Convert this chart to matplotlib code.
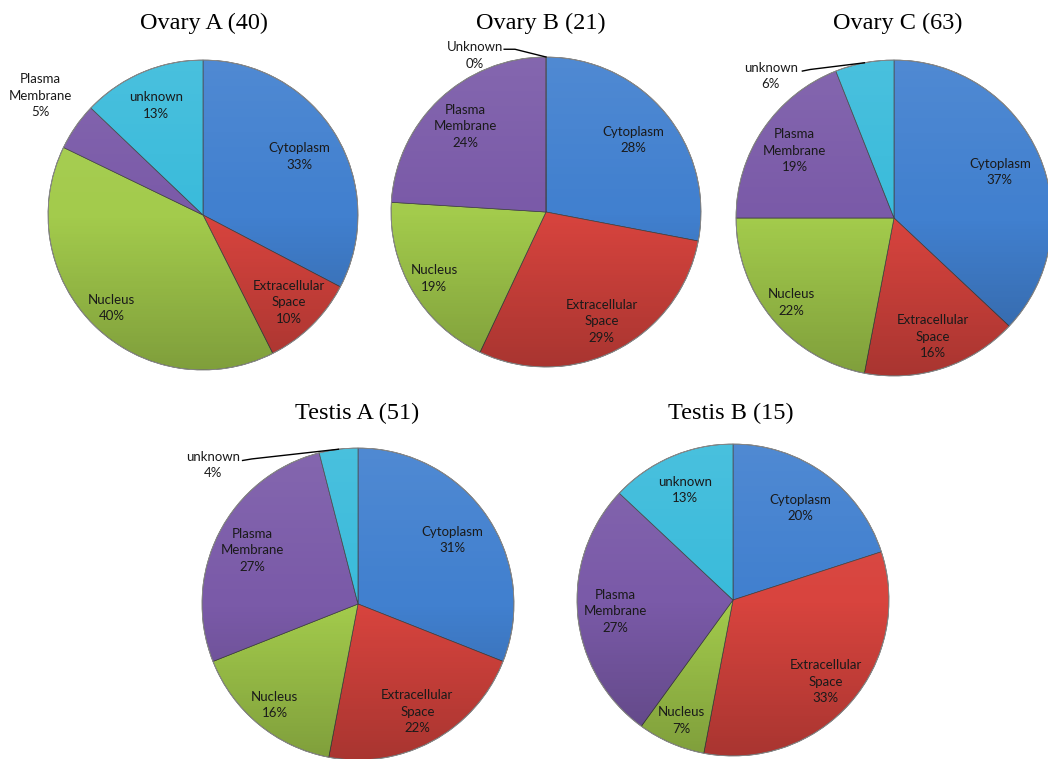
import matplotlib
import matplotlib.pyplot as plt
import numpy as np
from matplotlib.patches import Circle

matplotlib.rcParams.update({"font.family": "Lato"})

W, H = 1048, 759

# data (percent of proteins per subcellular location)
locations = ["Cytoplasm", "Extracellular\nSpace", "Nucleus", "Plasma\nMembrane", "unknown"]
titles = ["Ovary A (40)", "Ovary B (21)", "Ovary C (63)", "Testis A (51)", "Testis B (15)"]
ovary_a = [33, 10, 40, 5, 13]
ovary_b = [28, 29, 19, 24, 0]
ovary_c = [37, 16, 22, 19, 6]
testis_a = [31, 22, 16, 27, 4]
testis_b = [20, 33, 7, 27, 13]

COLORS = ["#4180cf", "#d8443e", "#a3cb4c", "#7a5aa8", "#3abbdb"]
LABEL_R = [0.73, 0.79, 0.84, 0.76, 0.77]

# pie centre / radius in pixels
PIES = [
    (203, 215, 155),
    (546, 212, 155),
    (894, 218, 158),
    (358, 604, 156),
    (733, 600, 156),
]
TITLE_POS = [(204, 23), (541, 23), (898, 23), (357, 413), (731, 413)]

# small slices labelled outside: index -> (text xy, leader points or None)
OUTSIDE = {
    0: {3: ((-1.05, 0.77), None)},
    1: {4: ((-0.46, 1.01), [(-0.27, 1.05), (-0.2, 1.05), (0.0, 1.0)])},
    2: {4: ((-0.78, 0.90), [(-0.58, 0.93), (-0.53, 0.94), None])},
    3: {4: ((-0.93, 0.89), [(-0.74, 0.92), (-0.68, 0.93), None])},
}


def shade(ax):
    # vertical light->dark overlay to mimic the bevelled look
    n = 256
    grad = np.zeros((n, 1, 4))
    t = np.linspace(0, 1, n)
    top = np.clip(1 - 2 * t, 0, 1)
    bot = np.clip(2 * t - 1, 0, 1)
    grad[:, 0, :3] = np.where(t[:, None] < 0.5, 1.0, 0.0)
    grad[:, 0, 3] = 0.08 * top + 0.22 * bot
    im = ax.imshow(grad, extent=[-1, 1, -1, 1], origin="upper",
                   aspect="auto", zorder=3, interpolation="bilinear")
    im.set_clip_path(Circle((0, 0), 1, transform=ax.transData))


def draw_pie(i, values):
    cx, cy, r = PIES[i]
    ax = plt.gcf().add_axes([(cx - r) / W, 1 - (cy + r) / H, 2 * r / W, 2 * r / H])
    wedges, _ = ax.pie(
        values,
        colors=COLORS,
        startangle=90,
        counterclock=False,
        radius=1,
        wedgeprops={"edgecolor": "#404040", "linewidth": 0.5},
    )
    shade(ax)
    ax.add_patch(Circle((0, 0), 1, fill=False, ec="#8a8a8a", lw=0.7, zorder=4))

    names = list(locations)
    if i == 1:
        names[4] = "Unknown"
    for k, w in enumerate(wedges):
        text = f"{names[k]}\n{values[k]}%"
        ang = np.deg2rad((w.theta1 + w.theta2) / 2)
        if k in OUTSIDE.get(i, {}):
            (tx, ty), leader = OUTSIDE[i][k]
            ax.text(tx, ty, text, ha="center", va="center", fontsize=9.5,
                    color="#1a1a1a", linespacing=1.45, zorder=6)
            if leader:
                pts = [p if p is not None else (np.cos(ang), np.sin(ang)) for p in leader]
                xs, ys = zip(*pts)
                ax.plot(xs, ys, color="black", lw=1.0, zorder=6, clip_on=False)
            continue
        d = LABEL_R[k]
        ax.text(d * np.cos(ang), d * np.sin(ang), text, ha="center", va="center",
                fontsize=9.5, color="#1a1a1a", linespacing=1.45, zorder=6)

    ax.set_xlim(-1, 1)
    ax.set_ylim(-1, 1)
    ax.set_aspect("equal")
    ax.set_axis_off()

    tx, ty = TITLE_POS[i]
    plt.gcf().text(tx / W, 1 - ty / H, titles[i], ha="center", va="center",
                   fontsize=17.5, family="Liberation Serif")


fig = plt.figure(figsize=(W / 100, H / 100), dpi=100)
for i, vals in enumerate([ovary_a, ovary_b, ovary_c, testis_a, testis_b]):
    draw_pie(i, vals)

fig.savefig("out.png", dpi=100)
